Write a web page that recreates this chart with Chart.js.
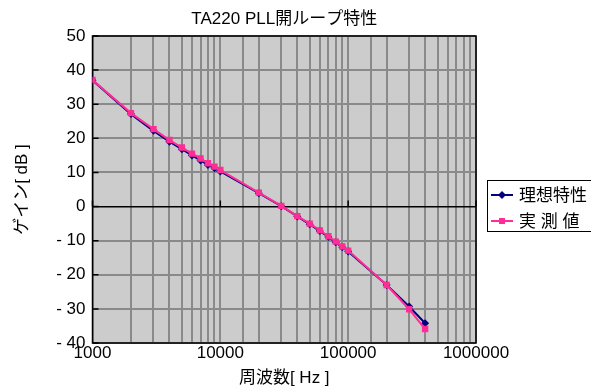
<!DOCTYPE html>
<html>
<head>
<meta charset="utf-8">
<script src="https://cdn.jsdelivr.net/npm/chart.js@4"></script>
<style>
  body { margin: 0; background: #fff; }
  canvas { display: block; }
</style>
</head>
<body>
<canvas id="chart" width="591" height="389"></canvas>
<script>
const chartTitle = "TA220 PLL開ループ特性";
const xTitle = "周波数[ Hz ]";
const yTitle = "ゲイン[ dB ]";

const freqs = [1000, 2000, 3000, 4000, 5000, 6000, 7000, 8000, 9000, 10000,
  20000, 30000, 40000, 50000, 60000, 70000, 80000, 90000, 100000,
  200000, 300000, 400000];
const ideal = [37.0, 27.1, 22.2, 19.0, 16.8, 15.0, 13.5, 12.2, 11.2, 10.3,
  3.9, 0.1, -2.9, -5.2, -7.2, -8.9, -10.5, -11.9, -13.2,
  -23.0, -29.3, -34.2];
const measured = [37.1, 27.4, 22.7, 19.5, 17.3, 15.5, 14.1, 12.7, 11.7, 10.7,
  4.1, 0.2, -2.8, -5.0, -7.0, -8.7, -10.3, -11.7, -12.9,
  -23.0, -30.1, -35.9];
const seriesNames = ["理想特性", "実 測 値"];
const xTickLabels = [1000, 10000, 100000, 1000000];

const FONT = "'Liberation Sans', 'Noto Sans CJK JP', sans-serif";
const NAVY = "#000080";
const PINK = "#ff2d95";
const GRID = "#8a8a8a";

function toPoints(values) {
  return freqs.map((f, i) => ({ x: f, y: values[i] }));
}

// plot background, border, inside tick marks, title, legend
const decorations = {
  id: "decorations",
  beforeDraw(chart) {
    const { ctx, chartArea: a } = chart;
    ctx.save();
    ctx.fillStyle = "#cccccc";
    ctx.fillRect(a.left, a.top, a.right - a.left, a.bottom - a.top);
    ctx.restore();
  },
  beforeDatasetsDraw(chart) {
    const { ctx, chartArea: a, scales } = chart;
    ctx.save();
    ctx.strokeStyle = "#000";
    ctx.lineWidth = 1.5;
    ctx.strokeRect(a.left, a.top, a.right - a.left, a.bottom - a.top);
    ctx.lineWidth = 1.5;
    ctx.beginPath();
    scales.y.ticks.forEach(t => {
      const y = scales.y.getPixelForValue(t.value);
      ctx.moveTo(a.left, y);
      ctx.lineTo(a.left + 6, y);
    });
    const y0 = scales.y.getPixelForValue(0);
    xTickLabels.forEach(v => {
      const x = scales.x.getPixelForValue(v);
      ctx.moveTo(x, y0);
      ctx.lineTo(x, y0 - 6);
    });
    ctx.stroke();
    ctx.restore();
  },
  afterDraw(chart) {
    const { ctx, chartArea: a } = chart;
    ctx.save();
    ctx.fillStyle = "#000";
    ctx.font = "17px " + FONT;
    ctx.textAlign = "center";
    ctx.textBaseline = "middle";
    ctx.fillText(chartTitle, (a.left + a.right) / 2, 19);

    // legend box
    const lx = 487, ly = 180, lh = 51;
    ctx.fillStyle = "#fff";
    ctx.fillRect(lx, ly, 120, lh);
    ctx.strokeStyle = "#000";
    ctx.lineWidth = 1;
    ctx.strokeRect(lx + 0.5, ly + 0.5, 120, lh);
    chart.data.datasets.forEach((ds, i) => {
      const cy = ly + 15 + i * 26;
      ctx.strokeStyle = ds.borderColor;
      ctx.lineWidth = 2;
      ctx.beginPath();
      ctx.moveTo(lx + 4, cy);
      ctx.lineTo(lx + 26, cy);
      ctx.stroke();
      ctx.fillStyle = ds.borderColor;
      ctx.beginPath();
      if (ds.pointStyle === "rectRot") {
        ctx.moveTo(lx + 15, cy - 4);
        ctx.lineTo(lx + 19, cy);
        ctx.lineTo(lx + 15, cy + 4);
        ctx.lineTo(lx + 11, cy);
        ctx.closePath();
      } else {
        ctx.rect(lx + 12, cy - 3, 6, 6);
      }
      ctx.fill();
      ctx.fillStyle = "#000";
      ctx.textAlign = "left";
      ctx.fillText(ds.label, lx + 32, cy + 1);
    });
    ctx.restore();
  }
};

new Chart(document.getElementById("chart"), {
  type: "line",
  data: {
    datasets: [
      {
        label: seriesNames[0],
        data: toPoints(ideal),
        borderColor: NAVY,
        backgroundColor: NAVY,
        borderWidth: 2,
        pointStyle: "rectRot",
        pointRadius: 4,
        pointBorderWidth: 0,
        order: 1
      },
      {
        label: seriesNames[1],
        data: toPoints(measured),
        borderColor: PINK,
        backgroundColor: PINK,
        borderWidth: 2,
        pointStyle: "rect",
        pointRadius: 4.5,
        pointBorderWidth: 0,
        order: 0
      }
    ]
  },
  options: {
    responsive: false,
    animation: false,
    layout: { padding: { top: 36, right: 115, bottom: 0, left: 0 } },
    plugins: {
      legend: { display: false },
      title: { display: false },
      tooltip: { enabled: false }
    },
    scales: {
      x: {
        type: "logarithmic",
        min: 1000,
        max: 1000000,
        afterFit: s => { s.height = 46; },
        border: { display: false },
        grid: { color: GRID, lineWidth: 2, drawTicks: false },
        ticks: {
          autoSkip: false,
          maxRotation: 0,
          padding: 0,
          color: "#000",
          font: { family: FONT, size: 17 },
          callback: v => xTickLabels.includes(v) ? String(v) : ""
        },
        title: {
          display: true,
          text: xTitle,
          color: "#000",
          font: { family: FONT, size: 17 },
          padding: { top: 0, bottom: 0 }
        }
      },
      y: {
        min: -40,
        max: 50,
        afterFit: s => { s.width = 92.5; },
        border: { display: false },
        grid: {
          color: c => (c.tick && c.tick.value === 0) ? "#000" : GRID,
          lineWidth: c => (c.tick && c.tick.value === 0) ? 1.5 : 2,
          drawTicks: false
        },
        ticks: {
          stepSize: 10,
          padding: 7,
          color: "#000",
          font: { family: FONT, size: 17 },
          callback: v => v < 0 ? "- " + Math.abs(v) : String(v)
        },
        title: {
          display: true,
          text: yTitle,
          color: "#000",
          font: { family: FONT, size: 17 },
          padding: { top: 12, bottom: 0 }
        }
      }
    }
  },
  plugins: [decorations]
});
</script>
</body>
</html>
